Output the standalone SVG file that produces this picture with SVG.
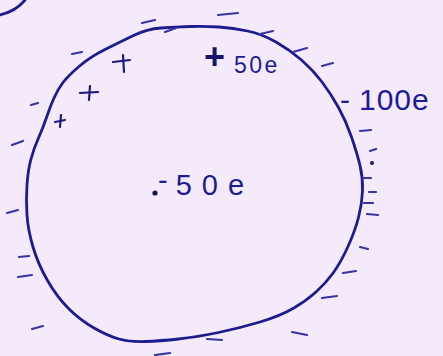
<svg xmlns="http://www.w3.org/2000/svg" width="443" height="356" viewBox="0 0 443 356">
<style>
.ink{fill:none;stroke:#1c1c8e;stroke-width:2.8;stroke-linecap:round;stroke-linejoin:round}
.dash{fill:none;stroke:#3434a8;stroke-width:2.2;stroke-linecap:round}
.plus{fill:none;stroke:#1a1a80;stroke-width:2.2;stroke-linecap:round}
.lbl{font-family:"Liberation Sans",Arial,sans-serif;fill:#1c1c96}
</style>
<rect width="443" height="356" fill="#f4eafc"/>
<path class="ink" d="M0,15 Q16,11 25,0"/>
<g id="conductor">
<path class="ink" d="M161,28 Q175,27 190,26.5 Q205,26 219,27 Q233,28 247.5,31 Q262,34 276,42 Q290,50 301.5,60 Q313,70 322,82 Q331,94 338.5,107.5 Q346,121 351.5,137 Q357,153 360,165.5 Q363,178 362.5,191 Q362,204 358.5,217.5 Q355,231 348,246.5 Q341,262 333.5,272.5 Q326,283 316,292 Q306,301 293,308.5 Q280,316 260,322 Q240,328 218.5,332.5 Q197,337 178.5,339 Q160,341 145,341.5 Q130,342 119,339 Q108,336 94,328 Q80,320 68.5,308.5 Q57,297 47.5,280.5 Q38,264 33,247 Q28,230 27,215 Q26,200 27,185 Q28,170 31,159 Q34,148 38.5,138 Q43,128 46.5,117.5 Q50,107 54,98 Q58,89 63,82.5 Q68,76 79,66.5 Q90,57 105,49.5 Q120,42 133.5,35.5 Q147,29 161,28 Z"/>
</g>
<g id="outer-charges">
<line class="dash" x1="218" y1="15" x2="238" y2="13"/>
<line class="dash" x1="142" y1="23" x2="155" y2="20"/>
<line class="dash" x1="72" y1="54" x2="82" y2="52"/>
<line class="dash" x1="31" y1="105" x2="38" y2="103"/>
<line class="dash" x1="12" y1="145" x2="23" y2="141"/>
<line class="dash" x1="7" y1="213" x2="18" y2="210"/>
<line class="dash" x1="19" y1="257" x2="29" y2="256"/>
<line class="dash" x1="18" y1="277" x2="32" y2="275"/>
<line class="dash" x1="32" y1="329" x2="43" y2="326"/>
<line class="dash" x1="155" y1="355" x2="170" y2="353"/>
<line class="dash" x1="207" y1="339" x2="222" y2="340"/>
<line class="dash" x1="292" y1="332" x2="307" y2="335"/>
<line class="dash" x1="322" y1="298" x2="337" y2="296"/>
<line class="dash" x1="343" y1="273" x2="356" y2="271"/>
<line class="dash" x1="360" y1="247" x2="368" y2="249"/>
<line class="dash" x1="367" y1="214" x2="378" y2="215"/>
<line class="dash" x1="364" y1="203" x2="373" y2="203"/>
<line class="dash" x1="369" y1="192" x2="376" y2="192"/>
<line class="dash" x1="363" y1="178" x2="371" y2="178"/>
<line class="dash" x1="370" y1="151" x2="376" y2="149"/>
<line class="dash" x1="360" y1="131" x2="371" y2="130"/>
<line class="dash" x1="322" y1="66" x2="333" y2="63"/>
<line class="dash" x1="293" y1="52" x2="307" y2="48"/>
<line class="dash" x1="260" y1="34" x2="273" y2="31"/>
<line class="dash" x1="165" y1="32" x2="176" y2="28"/>
<circle cx="372" cy="163" r="2" fill="#1a1a70"/>
</g>
<g id="inner-charges">
<line class="plus" x1="113" y1="62" x2="130" y2="60"/>
<line class="plus" x1="123" y1="55" x2="124" y2="72"/>
<line class="plus" x1="80" y1="93" x2="98" y2="92"/>
<line class="plus" x1="90" y1="86" x2="89" y2="100"/>
<line class="plus" x1="55" y1="122" x2="65" y2="120"/>
<line class="plus" x1="61" y1="115" x2="60" y2="127"/>
</g>
<g id="labels">
<text class="lbl" x="204" y="69"><tspan font-size="36" font-weight="bold" fill="#15156e">+</tspan><tspan font-size="23" dx="9" dy="4" letter-spacing="2.5">50e</tspan></text>
<text class="lbl" x="340" y="110" font-size="30" letter-spacing="1">-<tspan dx="8">100e</tspan></text>
<circle cx="155" cy="193" r="2.6" fill="#15155a"/>
<text class="lbl" x="158" y="195" font-size="29" letter-spacing="10"><tspan dy="-5" letter-spacing="8">-</tspan><tspan dy="5">50e</tspan></text>
</g>
</svg>
